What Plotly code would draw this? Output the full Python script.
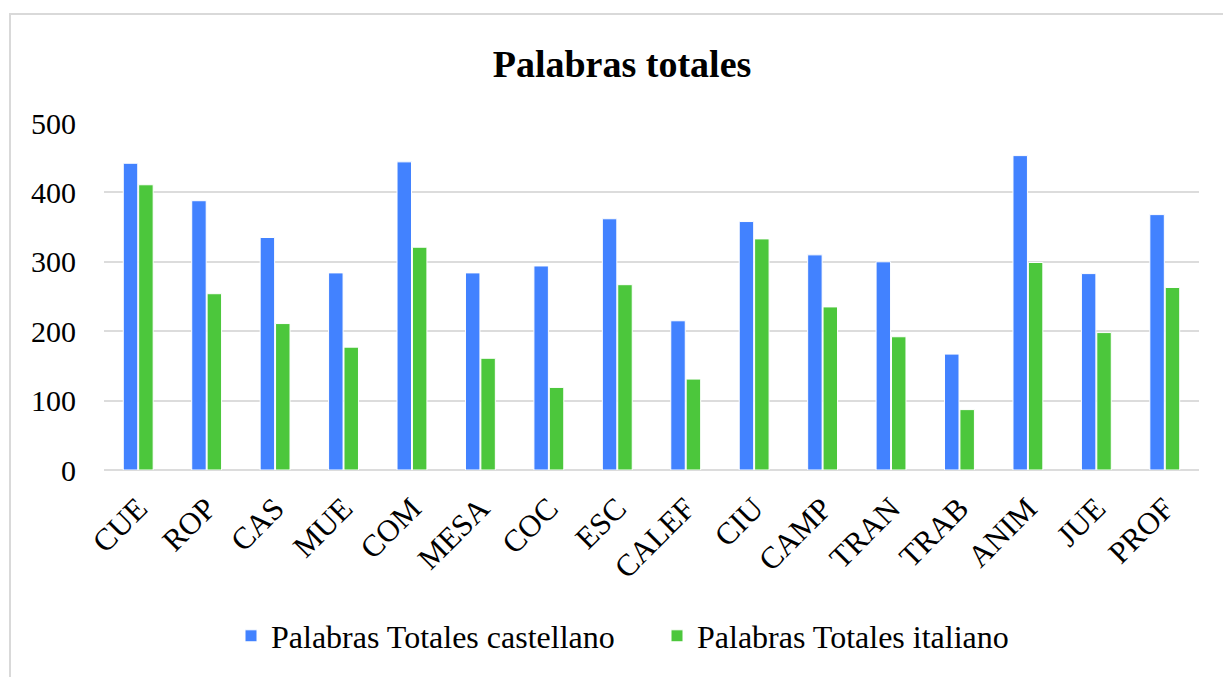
import plotly.graph_objects as go

categories = ["CUE", "ROP", "CAS", "MUE", "COM", "MESA", "COC", "ESC", "CALEF",
              "CIU", "CAMP", "TRAN", "TRAB", "ANIM", "JUE", "PROF"]
castellano = [442, 388, 335, 284, 444, 284, 294, 362, 215, 358, 310, 300, 167, 453, 283, 368]
italiano = [411, 254, 211, 177, 321, 161, 119, 267, 131, 333, 235, 192, 87, 299, 198, 263]
series_names = ["Palabras Totales castellano", "Palabras Totales italiano"]
y_ticks = [0, 100, 200, 300, 400, 500]

FONT = "Liberation Serif"
BLUE = "#4282FF"
GREEN = "#4CC73C"

fig = go.Figure()
fig.add_trace(go.Bar(x=categories, y=castellano, name=series_names[0],
                     marker=dict(color=BLUE, line=dict(color="white", width=1))))
fig.add_trace(go.Bar(x=categories, y=italiano, name=series_names[1],
                     marker=dict(color=GREEN, line=dict(color="white", width=1))))

L, R, T, B = 104, 24, 123, 207
W, H = 1223, 677
pw, ph = W - L - R, H - T - B

fig.update_layout(
    width=W, height=H,
    margin=dict(l=L, r=R, t=T, b=B),
    paper_bgcolor="white", plot_bgcolor="white",
    font=dict(family=FONT, color="#000000", size=30),
    title=dict(text="<b>Palabras totales</b>", x=622 / W, xanchor="center",
               y=1 - 64 / H, yanchor="middle",
               font=dict(family=FONT, size=38, color="#000000")),
    barmode="group", bargap=0.55, bargroupgap=0.06,
    showlegend=True,
    legend=dict(orientation="h", x=(231 - L) / pw, xanchor="left",
                y=(470 - 636) / ph, yanchor="middle",
                font=dict(family=FONT, size=32, color="#000000"),
                itemwidth=30, entrywidth=381, entrywidthmode="pixels",
                traceorder="normal"),
    xaxis=dict(tickangle=-45, tickfont=dict(family=FONT, size=31),
               showgrid=False, showline=False, ticks="", ticklabelstandoff=13),
    yaxis=dict(range=[0, 500], tickvals=y_ticks, tickfont=dict(family=FONT, size=30),
               showgrid=True, gridcolor="#dcdcdc", gridwidth=1.5,
               zeroline=True, zerolinecolor="#dcdcdc", zerolinewidth=1.5,
               showline=False, ticks="", ticklabelstandoff=27),
    shapes=[dict(type="rect", xref="paper", yref="paper",
                 x0=(10 - L) / pw, x1=(1240 - L) / pw,
                 y0=(470 - 700) / ph, y1=1 + (T - 14) / ph,
                 line=dict(color="#d9d9d9", width=2), fillcolor="rgba(0,0,0,0)",
                 layer="below")],
)

fig.write_html("out.html", config={"displayModeBar": False},
               post_script="document.body.style.margin='0px';document.body.style.overflow='hidden';")
